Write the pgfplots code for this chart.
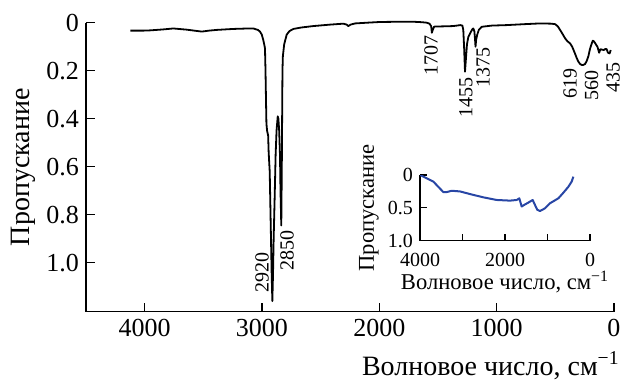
\documentclass[border=0pt]{standalone}
\usepackage{fontspec}
\setmainfont{Liberation Serif}
\usepackage{pgfplots}
\pgfplotsset{compat=1.18}
\definecolor{insetblue}{RGB}{40,70,165}

% IR spectrum of the sample (wavenumber, transmission scale as plotted)
\pgfplotstableread{
w y
4000 0.033
3900 0.033
3850 0.032
3750 0.028
3673 0.024
3571 0.029
3500 0.034
3457 0.037
3400 0.033
3343 0.030
3217 0.026
3100 0.024
3065 0.024
3030 0.030
3014 0.037
3000 0.050
2989 0.072
2980 0.095
2976 0.107
2972 0.200
2968 0.330
2965 0.420
2960 0.450
2952 0.470
2948 0.540
2940 0.620
2932 0.850
2925 1.050
2920 1.160
2915 1.050
2910 0.900
2902 0.720
2895 0.550
2888 0.450
2882 0.410
2879 0.390
2874 0.400
2868 0.450
2862 0.550
2858 0.700
2852 0.845
2848 0.600
2845 0.350
2843 0.200
2840 0.140
2830 0.090
2811 0.050
2790 0.035
2760 0.026
2700 0.020
2608 0.014
2481 0.008
2380 0.004
2355 0.008
2342 0.014
2325 0.008
2291 0.003
2200 0.000
2101 -0.003
1950 -0.004
1848 -0.004
1780 -0.002
1746 0.000
1725 0.004
1712 0.015
1707 0.042
1700 0.030
1690 0.017
1683 0.016
1600 0.015
1544 0.014
1490 0.010
1475 0.012
1468 0.030
1462 0.100
1455 0.204
1448 0.150
1440 0.090
1430 0.060
1417 0.045
1400 0.028
1392 0.024
1384 0.035
1380 0.060
1375 0.100
1370 0.070
1362 0.050
1350 0.030
1328 0.017
1250 0.012
1138 0.010
1000 0.006
884 0.003
800 0.004
770 0.006
750 0.015
732 0.030
710 0.050
694 0.065
675 0.078
656 0.086
640 0.100
619 0.128
605 0.148
593 0.162
580 0.172
567 0.176
555 0.176
542 0.172
530 0.160
517 0.140
505 0.110
491 0.086
483 0.075
474 0.078
460 0.090
448 0.100
435 0.125
425 0.110
415 0.112
400 0.114
390 0.110
378 0.110
368 0.125
355 0.128
347 0.114
}\spectrum

% overview spectrum for the inset
\pgfplotstableread{
w y
4000 0.000
3843 0.050
3686 0.100
3569 0.180
3451 0.260
3373 0.260
3255 0.240
3059 0.250
2824 0.290
2510 0.340
2196 0.380
1882 0.390
1725 0.380
1663 0.355
1608 0.480
1553 0.457
1451 0.420
1349 0.380
1294 0.457
1239 0.530
1176 0.548
1059 0.507
941 0.430
745 0.355
627 0.270
510 0.180
431 0.100
392 0.025
}\overview

\begin{document}
\begin{tikzpicture}
% frame with the wavenumber and transmission scales
\begin{axis}[
  at={(0,0)}, anchor=south west,
  width=264pt, height=144.5pt, scale only axis,
  xmin=0, xmax=4500, x dir=reverse,
  ymin=0, ymax=1.204, y dir=reverse,
  axis x line*=bottom, axis y line*=left,
  xtick={0,1000,2000,3000,4000},
  xticklabels={0,1000,2000,3000,4000},
  ytick={0,0.2,0.4,0.6,0.8,1.0},
  yticklabels={0,0.2,0.4,0.6,0.8,1.0},
  tick align=inside, major tick length=4.3pt,
  tick style={black, line width=0.7pt},
  axis line style={black, line width=0.7pt},
  ticklabel style={font=\fontsize{13}{15}\selectfont},
  xlabel={Волновое число, см\textsuperscript{−1}},
  ylabel={Пропускание},
  label style={font=\fontsize{14}{16}\selectfont},
  xlabel style={at={(axis description cs:1,0)}, anchor=base east, inner sep=0pt, xshift=3pt, yshift=-31.7pt},
  ylabel style={at={(axis description cs:0,0.5)}, anchor=center, yshift=31.5pt},
]
\end{axis}

% the spectrum itself, laid out on its own wavenumber scale
\begin{axis}[
  at={(0,0)}, anchor=south west,
  width=264pt, height=144.5pt, scale only axis,
  xmin=322, xmax=4337, x dir=reverse,
  ymin=0, ymax=1.204, y dir=reverse,
  hide axis, clip=false,
]
\addplot[black, line width=0.9pt, line join=round] table[x=w, y=y] {\spectrum};
\begin{scope}[every node/.style={rotate=90, anchor=east, inner sep=0pt, font=\fontsize{10}{12}\selectfont}]
\node at (axis cs:1713,0.050) {1707};
\node at (axis cs:1449,0.226) {1455};
\node at (axis cs:1318,0.100) {1375};
\node at (axis cs:656,0.189) {619};
\node at (axis cs:493,0.197) {560};
\node at (axis cs:329,0.164) {435};
\node at (axis cs:2998,0.956) {2920};
\node at (axis cs:2808,0.864) {2850};
\end{scope}
\end{axis}

% inset: overview spectrum
\begin{axis}[
  at={(167pt,35.5pt)}, anchor=south west,
  width=85pt, height=32.85pt, scale only axis,
  xmin=0, xmax=4000, x dir=reverse,
  ymin=0, ymax=1, y dir=reverse,
  axis x line*=bottom, axis y line*=left,
  xtick={0,1000,2000,3000,4000},
  xticklabels={0,,2000,,4000},
  ytick={0,0.5,1},
  yticklabels={0,0.5,1.0},
  tick align=inside, major tick length=3.5pt,
  tick style={black, line width=0.6pt},
  axis line style={black, line width=0.6pt},
  ticklabel style={font=\fontsize{10}{12}\selectfont},
  xticklabel style={anchor=north, inner sep=0pt, yshift=-6pt},
  xlabel={Волновое число, см\textsuperscript{−1}},
  ylabel={Пропускание},
  label style={font=\fontsize{11.3}{13}\selectfont},
  xlabel style={at={(axis description cs:0.5,0)}, anchor=base, inner sep=0pt, yshift=-24.5pt},
  ylabel style={at={(axis description cs:0,0.5)}, anchor=center, yshift=25.5pt},
]
\addplot[insetblue, line width=1pt, line join=round] table[x=w, y=y] {\overview};
\end{axis}

\pgfresetboundingbox
\path[use as bounding box] (-43pt,-34.15pt) rectangle (269pt,155.85pt);
\end{tikzpicture}
\end{document}
